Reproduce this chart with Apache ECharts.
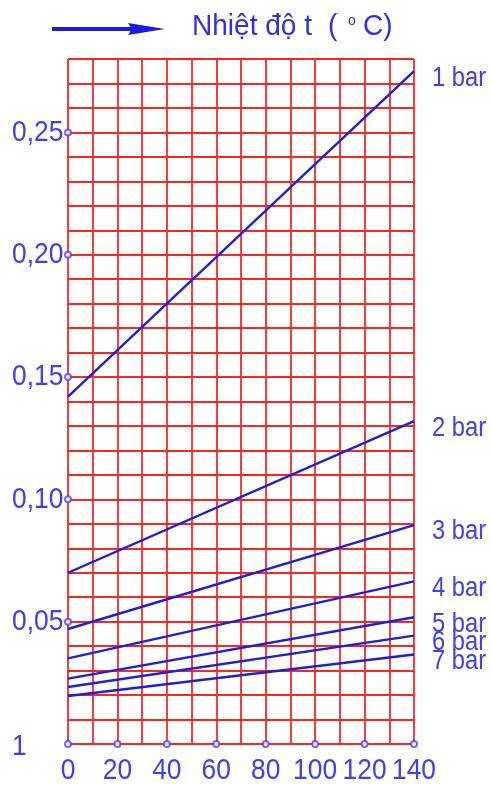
<!DOCTYPE html>
<html><head><meta charset="utf-8">
<script src="https://cdn.jsdelivr.net/npm/echarts@6/dist/echarts.min.js"></script>
<style>html,body{margin:0;padding:0;background:#fff}#c{width:492px;height:785px}</style>
</head><body><div id="c"></div>
<script>
const xValues = [0, 140];
const seriesNames = ['1 bar', '2 bar', '3 bar', '4 bar', '5 bar', '6 bar', '7 bar'];
const s1 = [0.142, 0.275];
const s2 = [0.070, 0.132];
const s3 = [0.047, 0.0895];
const s4 = [0.035, 0.0665];
const s5 = [0.0267, 0.0518];
const s6 = [0.0233, 0.0443];
const s7 = [0.0196, 0.0366];
const seriesValues = [s1, s2, s3, s4, s5, s6, s7];
const xTickValues = [0, 20, 40, 60, 80, 100, 120, 140];
const xTickLabels = ['0', '20', '40', '60', '80', '100', '120', '140'];
const yTickValues = [0, 0.05, 0.10, 0.15, 0.20, 0.25];
const yTickLabels = ['1', '0,05', '0,10', '0,15', '0,20', '0,25'];
const titleMain = 'Nhiệt độ t';

const FONT = '"Liberation Sans", Arial, sans-serif';
const LBL = '#4040ee';
const TITLE = '#3030e4';
const LINE = '#1e1ede';
const RED = '#ff2424';
const SX = 0.88;

const chart = echarts.init(document.getElementById('c'), null, {renderer: 'canvas'});

const lineSeries = seriesNames.map((name, i) => ({
  name: name,
  type: 'line',
  data: xValues.map((x, j) => [x, seriesValues[i][j]]),
  showSymbol: false,
  symbol: 'none',
  lineStyle: {color: LINE, width: 2.4},
  silent: true,
  z: 3
}));

const tickMarks = xTickValues.map(x => [x, 0]).concat(yTickValues.filter(v => v > 0).map(v => [0, v]));

chart.setOption({
  animation: false,
  grid: {left: 68, right: 78, top: 59, bottom: 41},
  xAxis: {
    type: 'value', min: 0, max: 140, interval: 10,
    axisLine: {show: false}, axisTick: {show: false}, axisLabel: {show: false},
    splitLine: {show: true, lineStyle: {color: RED, width: 1.8}}
  },
  yAxis: {
    type: 'value', min: 0, max: 0.28, interval: 0.01,
    axisLine: {show: false}, axisTick: {show: false}, axisLabel: {show: false},
    splitLine: {show: true, lineStyle: {color: RED, width: 1.8}}
  },
  series: lineSeries.concat([{
    type: 'scatter',
    data: tickMarks,
    symbol: 'emptyCircle',
    symbolSize: 6,
    itemStyle: {color: '#4a4ad8', borderWidth: 1.6},
    silent: true,
    z: 5
  }])
});

const px = (x, y) => chart.convertToPixel({xAxisIndex: 0, yAxisIndex: 0}, [x, y]);
const txt = (text, x, y, size, align, color, sx) => ({
  type: 'text', x: x, y: y, scaleX: sx, silent: true,
  style: {text: text, fontFamily: FONT, fontSize: size, fill: color, align: align, verticalAlign: 'middle'}
});

const g = [];
xTickValues.forEach((v, i) => {
  const p = px(v, 0);
  g.push(txt(xTickLabels[i], p[0], p[1] + 27, 30, 'center', LBL, SX));
});
yTickValues.forEach((v, i) => {
  const p = px(0, v);
  g.push(txt(yTickLabels[i], 12, p[1] + (v === 0 ? 3 : 0), 30, 'left', LBL, SX));
});
seriesNames.forEach((name, i) => {
  const vals = seriesValues[i];
  const p = px(xValues[xValues.length - 1], vals[vals.length - 1]);
  g.push(txt(name, 432, p[1] + 7, 27, 'left', LBL, SX));
});
g.push({type: 'rect', shape: {x: 52, y: 27, width: 80, height: 4}, style: {fill: '#1a1ae0'}});
g.push({type: 'polygon', shape: {points: [[128, 23], [165, 29], [128, 35], [132, 29]]}, style: {fill: '#1a1ae0'}});
g.push(txt(titleMain, 192, 27, 29.5, 'left', TITLE, 0.95));
g.push(txt('(', 328, 27, 29.5, 'left', TITLE, 0.95));
g.push(txt('o', 348, 21, 14, 'left', TITLE, 1));
g.push(txt('C)', 363, 27, 29.5, 'left', TITLE, 0.95));

chart.setOption({graphic: g});
</script>
</body></html>
